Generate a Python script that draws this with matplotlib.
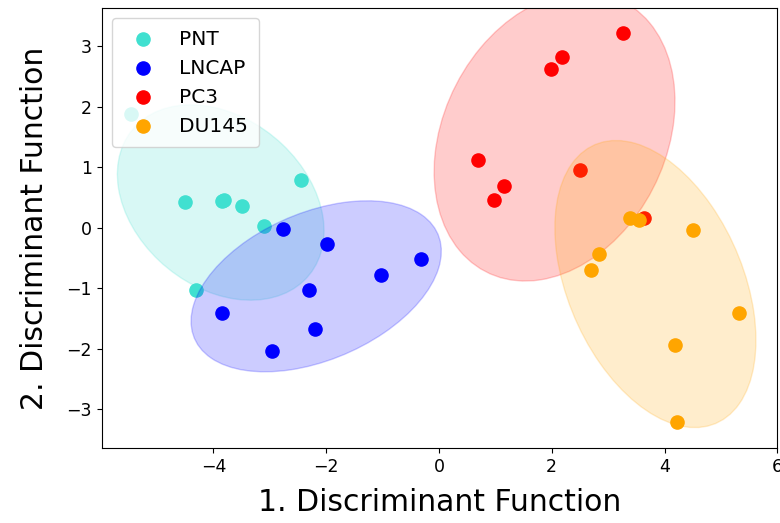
import numpy as np
import matplotlib
matplotlib.use("Agg")
import matplotlib.pyplot as plt
from matplotlib.patches import Ellipse
import matplotlib.transforms as transforms

groups = ["PNT", "LNCAP", "PC3", "DU145"]
colors = ["turquoise", "blue", "red", "orange"]

pnt_x = [-5.46, -4.50, -3.81, -3.85, -3.49, -2.45, -3.10, -4.31]
pnt_y = [1.89, 0.43, 0.46, 0.44, 0.36, 0.79, 0.03, -1.03]
lncap_x = [-2.77, -1.99, -0.31, -1.03, -2.31, -3.85, -2.20, -2.96]
lncap_y = [-0.01, -0.27, -0.51, -0.77, -1.03, -1.41, -1.67, -2.04]
pc3_x = [3.26, 2.19, 1.98, 0.69, 1.16, 0.98, 2.51, 3.63]
pc3_y = [3.23, 2.83, 2.62, 1.12, 0.70, 0.46, 0.96, 0.16]
du145_x = [3.39, 3.55, 4.51, 2.83, 2.69, 5.33, 4.19, 4.22]
du145_y = [0.17, 0.13, -0.03, -0.43, -0.70, -1.41, -1.94, -3.20]

xs = [pnt_x, lncap_x, pc3_x, du145_x]
ys = [pnt_y, lncap_y, pc3_y, du145_y]


def confidence_ellipse(x, y, ax, n_std=2.0, **kw):
    x = np.asarray(x); y = np.asarray(y)
    cov = np.cov(x, y)
    pearson = cov[0, 1] / np.sqrt(cov[0, 0] * cov[1, 1])
    rx = np.sqrt(1 + pearson)
    ry = np.sqrt(1 - pearson)
    ell = Ellipse((0, 0), width=rx * 2, height=ry * 2, **kw)
    sx = np.sqrt(cov[0, 0]) * n_std
    sy = np.sqrt(cov[1, 1]) * n_std
    t = transforms.Affine2D().rotate_deg(45).scale(sx, sy).translate(x.mean(), y.mean())
    ell.set_transform(t + ax.transData)
    return ax.add_patch(ell)


fig = plt.figure(figsize=(7.8, 5.23), dpi=100)
ax = fig.add_axes([0.1305, 0.143, 0.866, 0.841])

for name, c, x, y in zip(groups, colors, xs, ys):
    ax.scatter(x, y, s=90, color=c, label=name)
    confidence_ellipse(x, y, ax, n_std=2.0, color=c, alpha=0.2)

ax.set_xlim(-5.98, 6.0)
ax.set_ylim(-3.64, 3.63)
ax.set_xticks([-4, -2, 0, 2, 4, 6])
ax.set_yticks([-3, -2, -1, 0, 1, 2, 3])
ax.tick_params(labelsize=12.5)
ax.set_xlabel("1. Discriminant Function", fontsize=21.5, labelpad=9)
ax.set_ylabel("2. Discriminant Function", fontsize=21.5, labelpad=13)
ax.legend(loc="upper left", fontsize=14.5, scatterpoints=1, borderpad=0.55)

fig.savefig("out.png", dpi=100)
